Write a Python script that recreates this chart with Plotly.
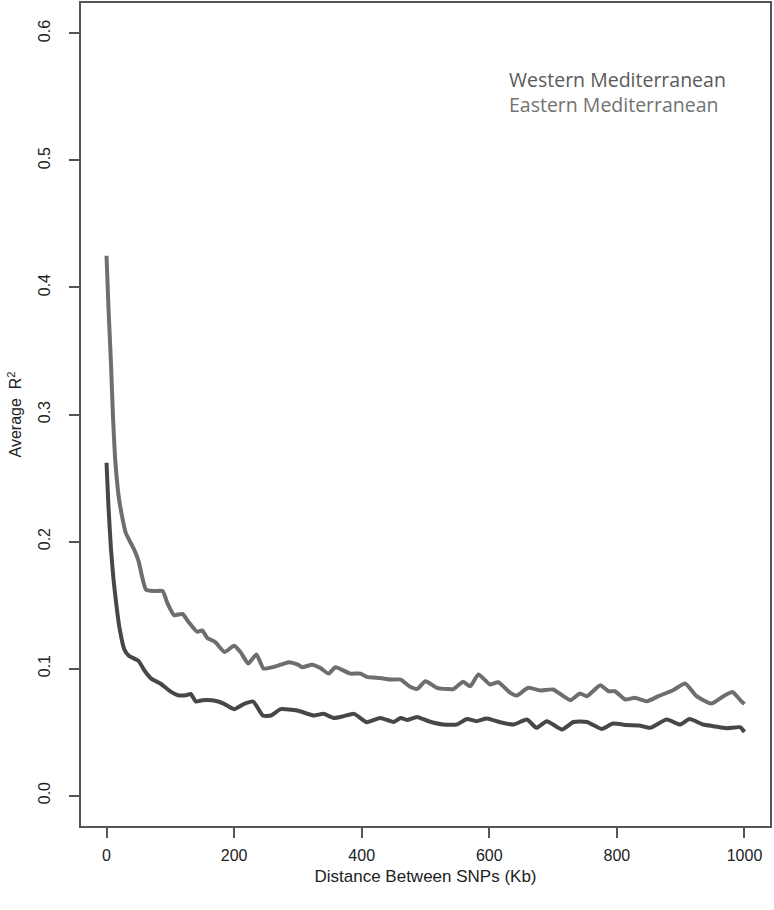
import plotly.graph_objects as go

# Eastern Mediterranean (upper, lighter line)
east_x = [0, 3, 7, 10, 14, 20, 30, 43, 50, 62, 75, 88, 95, 106, 119, 128, 142, 150, 158, 170,
          185, 200, 210, 222, 235, 246, 260, 273, 286, 300, 307, 322, 335, 348, 359, 382, 398,
          408, 429, 445, 461, 476, 487, 500, 518, 534, 544, 559, 570, 583, 601, 614, 633, 643,
          661, 680, 700, 727, 742, 753, 774, 787, 797, 813, 828, 847, 865, 888, 907, 925, 948,
          967, 981, 995, 1000]
east_y = [0.425, 0.385, 0.340, 0.300, 0.262, 0.232, 0.207, 0.194, 0.185, 0.162, 0.161, 0.161,
          0.152, 0.142, 0.143, 0.137, 0.129, 0.130, 0.124, 0.121, 0.113, 0.118, 0.113, 0.104,
          0.111, 0.100, 0.101, 0.103, 0.105, 0.103, 0.101, 0.103, 0.1005, 0.096, 0.101, 0.096,
          0.096, 0.0934, 0.0925, 0.0913, 0.0913, 0.0856, 0.084, 0.090, 0.0848, 0.0838, 0.0838,
          0.0895, 0.086, 0.0953, 0.0874, 0.0892, 0.0808, 0.0787, 0.0848, 0.0827, 0.0835, 0.075,
          0.0803, 0.0782, 0.0869, 0.0821, 0.0821, 0.0756, 0.0769, 0.0742, 0.0782, 0.0829,
          0.0882, 0.0782, 0.0724, 0.0782, 0.0815, 0.0742, 0.072]

# Western Mediterranean (lower, darker line)
west_x = [0, 3, 7, 11, 15, 20, 28, 35, 50, 60, 70, 85, 100, 112, 125, 132, 140, 150, 165, 175,
          185, 200, 215, 230, 245, 258, 273, 299, 325, 340, 356, 372, 388, 408, 429, 450, 461,
          471, 487, 505, 528, 549, 565, 580, 596, 617, 638, 659, 674, 690, 714, 732, 753, 776,
          794, 815, 835, 852, 878, 899, 914, 935, 951, 972, 993, 1000]
west_y = [0.262, 0.228, 0.194, 0.170, 0.152, 0.133, 0.115, 0.110, 0.106, 0.098, 0.092, 0.088,
          0.082, 0.079, 0.079, 0.080, 0.074, 0.075, 0.075, 0.074, 0.072, 0.068, 0.072, 0.074,
          0.063, 0.063, 0.068, 0.0669, 0.063, 0.0643, 0.0611, 0.0625, 0.0643, 0.0577, 0.0611,
          0.0579, 0.0611, 0.0595, 0.0619, 0.0585, 0.0559, 0.0559, 0.0602, 0.0585, 0.0606,
          0.0577, 0.0559, 0.0598, 0.0533, 0.0585, 0.052, 0.0579, 0.0579, 0.0524, 0.0567,
          0.0555, 0.0552, 0.0533, 0.0598, 0.0559, 0.0602, 0.0559, 0.0546, 0.053, 0.0538, 0.050]

x_ticks = [0, 200, 400, 600, 800, 1000]
y_ticks = [0.0, 0.1, 0.2, 0.3, 0.4, 0.5, 0.6]
legend_labels = ["Western Mediterranean", "Eastern Mediterranean"]

WEST_COLOR = "#474747"
EAST_COLOR = "#6e6e6e"
AXIS_COLOR = "#555555"
TICK_FONT = dict(family="Liberation Sans, Arial, sans-serif", size=16, color="#222222")
TITLE_FONT = dict(family="Liberation Sans, Arial, sans-serif", size=17, color="#222222")

L, R, T, B = 81, 4, 3, 84
W, H = 774, 910

fig = go.Figure()
fig.add_trace(go.Scatter(x=east_x, y=east_y, mode="lines",
                         line=dict(color=EAST_COLOR, width=4, shape="spline", smoothing=0.5),
                         name=legend_labels[1]))
fig.add_trace(go.Scatter(x=west_x, y=west_y, mode="lines",
                         line=dict(color=WEST_COLOR, width=4, shape="spline", smoothing=0.5),
                         name=legend_labels[0]))

fig.update_layout(
    width=W, height=H,
    margin=dict(l=L, r=R, t=T, b=B, autoexpand=False),
    paper_bgcolor="white", plot_bgcolor="white",
    showlegend=False,
    xaxis=dict(range=[-40, 1040], tickvals=x_ticks, ticktext=[str(v) for v in x_ticks],
               automargin=False,
               showgrid=False, zeroline=False, showline=True, mirror=True,
               linecolor=AXIS_COLOR, linewidth=1.5, ticks="outside", ticklen=10,
               tickcolor=AXIS_COLOR, tickwidth=1.5, tickfont=TICK_FONT, ticklabelstandoff=4,
               title=dict(text="Distance Between SNPs (Kb)", font=TITLE_FONT, standoff=7)),
    yaxis=dict(range=[-0.024, 0.624], tickvals=y_ticks, ticktext=[f"{v:.1f}" for v in y_ticks],
               automargin=False,
               showgrid=False, zeroline=False, showline=True, mirror=True,
               linecolor=AXIS_COLOR, linewidth=1.5, ticks="outside", ticklen=10,
               tickcolor=AXIS_COLOR, tickwidth=1.5, tickfont=TICK_FONT, tickangle=-90,
               ticklabelstandoff=13,
               title=dict(text="Average  R<sup>2</sup>", font=TICK_FONT, standoff=10)),
)

pw = W - L - R
ph = H - T - B

def px_to_paper(px, py):
    return (px - L) / pw, 1 - (py - T) / ph

for label, py, col in [(legend_labels[0], 80, "#5a5a5a"), (legend_labels[1], 105, "#727272")]:
    ax, ay = px_to_paper(507, py)
    fig.add_annotation(x=ax, y=ay, xref="paper", yref="paper", text=label,
                       showarrow=False, xanchor="left", yanchor="middle",
                       font=dict(family="Open Sans", size=19.5, color=col))

fig.write_html("out.html", config={"displayModeBar": False},
               post_script="document.body.style.margin='0px';document.body.style.overflow='hidden';")
